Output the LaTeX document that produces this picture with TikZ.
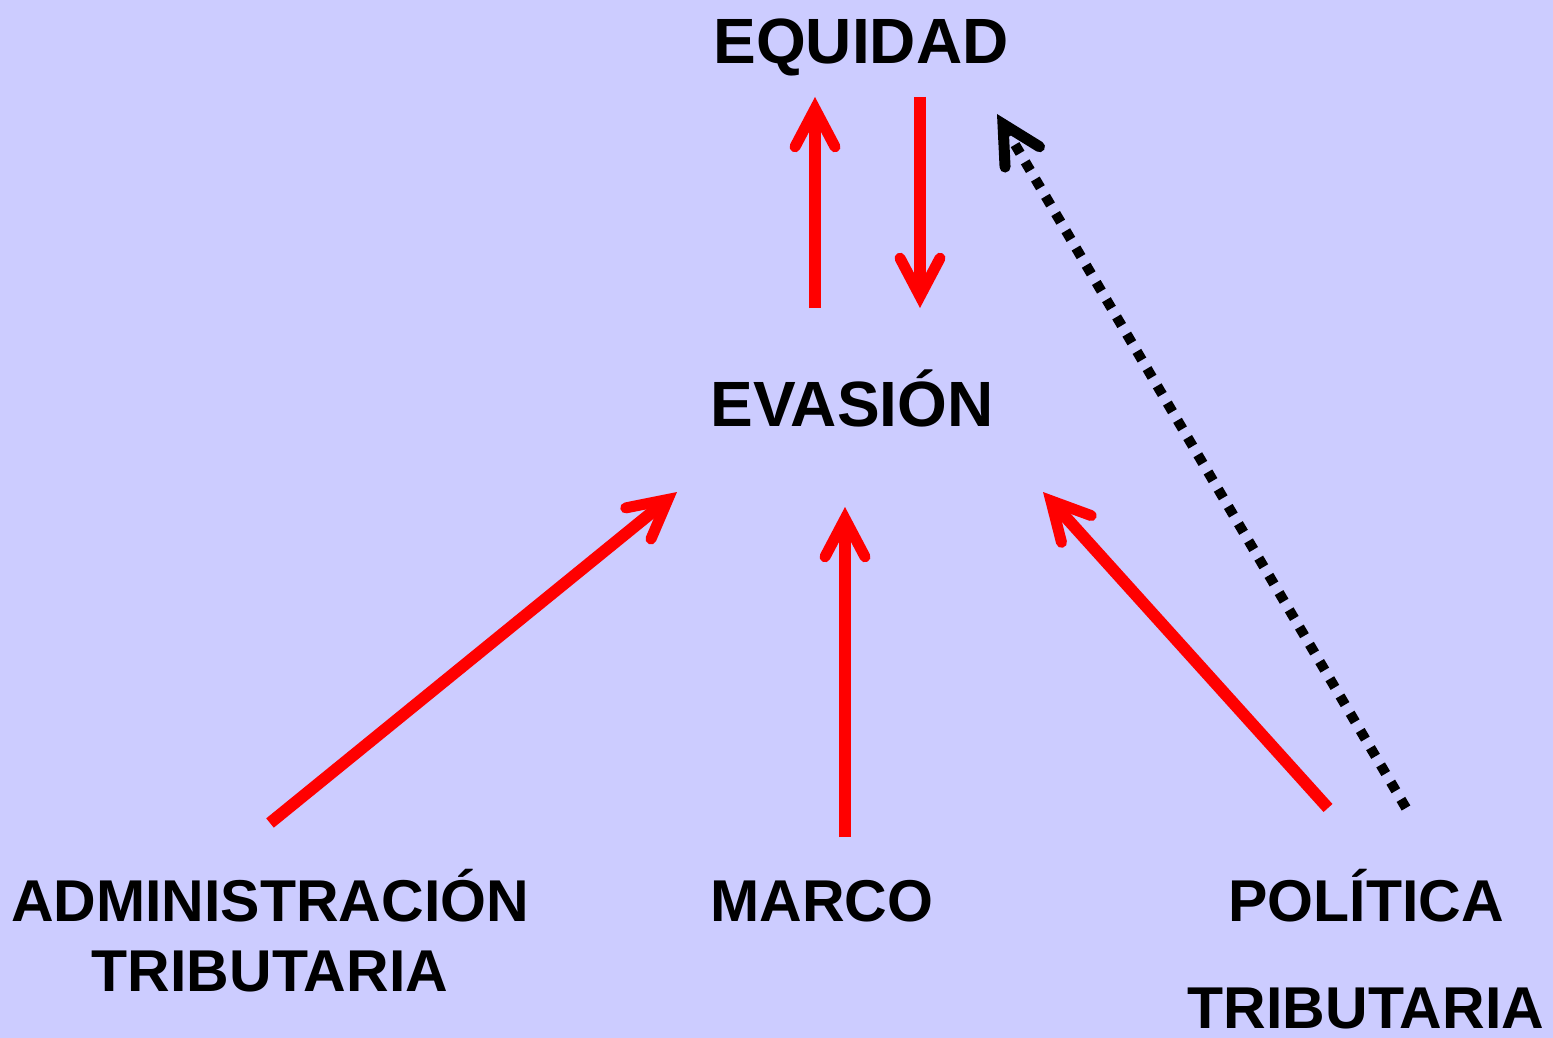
\documentclass[tikz,border=0pt]{standalone}
\usepackage{fontspec}
\setmainfont{Liberation Sans}
\usetikzlibrary{arrows.meta}
\definecolor{bg}{HTML}{CCCCFF}
\definecolor{red1}{HTML}{FF0000}
\tikzset{
  lbl/.style={font=\bfseries\fontsize{32}{35}\selectfont, inner sep=0pt, align=center, text=black},
  lblsmall/.style={lbl, font=\bfseries\fontsize{29.5}{35}\selectfont},
  barb/.style={-{Straight Barb[length=19pt,width=20pt,line width=5.5pt,line join=miter,line cap=round]}},
  redarrow/.style={barb, draw=red1, line width=6pt, line cap=butt},
  dotarrow/.style={barb, draw=black, line width=5pt, line cap=butt, dash pattern=on 5pt off 5pt}
}
\begin{document}
\begin{tikzpicture}[x=0.5pt,y=-0.5pt]
\fill[bg] (0,0) rectangle (1553,1038);
\useasboundingbox (0,0) rectangle (1553,1038);
\node[lbl, anchor=base] (equidad) at (861,64) {EQUIDAD};
\node[lbl, anchor=base] (evasion) at (852,426) {EVASIÓN};
\node[lblsmall, anchor=base] (admin) at (270,991) {ADMINISTRACIÓN\\TRIBUTARIA};
\node[lblsmall, anchor=base] (marco) at (822,921) {MARCO};
\node[lblsmall, anchor=base] (politica) at (1366,1028) {POLÍTICA\\[18.5pt]TRIBUTARIA};
% arrow ends
\coordinate (eqA) at (815,97);
\coordinate (evA) at (815,308);
\coordinate (eqB) at (920,97);
\coordinate (evB) at (920,308);
\coordinate (eqC) at (997,114);
\coordinate (evD) at (677,492);
\coordinate (evE) at (845,507);
\coordinate (evF) at (1043,492);
\coordinate (adS) at (270,823);
\coordinate (maS) at (845,837);
\coordinate (poS) at (1328,808);
\coordinate (poT) at (1406,808);
\draw[redarrow] (evA) -- (eqA);
\draw[redarrow] (eqB) -- (evB);
\draw[redarrow] (adS) -- (evD);
\draw[redarrow] (maS) -- (evE);
\draw[redarrow] (poS) -- (evF);
\draw[dotarrow] (poT) -- (eqC);
\end{tikzpicture}
\end{document}
